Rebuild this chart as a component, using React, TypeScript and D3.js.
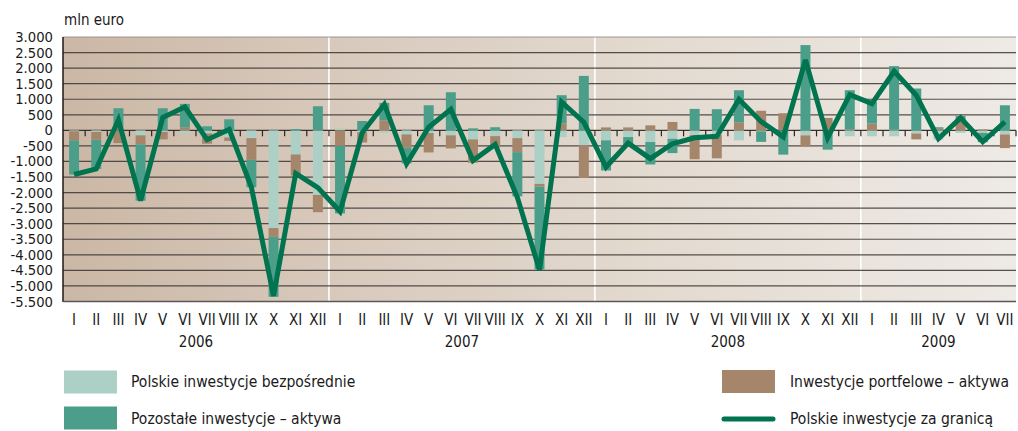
import React from "react";
import * as d3 from "d3";

const monthNames = ["I", "II", "III", "IV", "V", "VI", "VII", "VIII", "IX", "X", "XI", "XII"];
const years = ["2006", "2007", "2008", "2009"];
const monthsPerYear = [12, 12, 12, 7];

// Polskie inwestycje bezpośrednie
const directInv = [
  -30, -50, 0, -160, -50, -100, -100, -230, -250, -3140, -775, -2075,
  60, -60, -80, -130, -86, -160, -290, -185, -250, -1720, -220, -480,
  -320, -215, -376, -270, -150, -150, -320, -30, 0, -160, 0, -190,
  -190, -190, -100, -300, -80, -80, -130,
];
// Inwestycje portfelowe – aktywa
const portfolioInv = [
  -290, -250, -410, -290, -240, 100, -330, -110, -700, -280, -675, -555,
  -500, -330, 320, -430, -624, -420, -750, -370, -450, -90, 215, -1050,
  95, 95, 160, 270, -780, -750, 247, 630, 550, -356, 400, 30,
  215, 20, -190, 50, 330, 30, -440,
];
// Pozostałe inwestycje – aktywa
const otherInv = [
  -1100, -940, 710, -1810, 710, 750, 130, 355, -880, -1930, 40, 775,
  -2170, 300, 560, -500, 806, 1225, 65, 100, -1420, -2660, 915, 1750,
  -970, -265, -720, -460, 690, 680, 1043, -340, -780, 2740, -620, 1260,
  700, 2044, 1344, 50, 130, -300, 806,
];
// Polskie inwestycje za granicą
const totalInv = [
  -1420, -1240, 340, -2260, 410, 750, -300, 30, -1830, -5320, -1380, -1840,
  -2610, -80, 840, -1075, 100, 680, -970, -450, -2150, -4490, 910, 260,
  -1180, -410, -910, -430, -240, -190, 1000, 280, -210, 2260, -240, 1150,
  860, 1900, 1130, -270, 400, -370, 270,
];

const yTicks = [3000, 2500, 2000, 1500, 1000, 500, 0, -500, -1000, -1500, -2000, -2500, -3000, -3500, -4000, -4500, -5000, -5500];

const seriesKeys = ["direct", "portfolio", "other"];
const seriesLabels = ["Polskie inwestycje bezpośrednie", "Inwestycje portfelowe – aktywa", "Pozostałe inwestycje – aktywa"];
const lineLabel = "Polskie inwestycje za granicą";

const colors: Record<string, string> = {
  direct: "#acd0c5",
  portfolio: "#a5866a",
  other: "#4a9e8a",
};
const lineColor = "#00734f";

const W = 1018;
const H = 431;
const plot = { left: 63, right: 1016, top: 37, bottom: 301.5 };
const FONT = "'DejaVu Sans Condensed', 'DejaVu Sans', sans-serif";
const FONT_WIDE = "'DejaVu Sans', sans-serif";

export default function App() {
  const cats: { year: string; month: string; idx: number }[] = [];
  years.forEach((y, yi) => {
    for (let m = 0; m < monthsPerYear[yi]; m++) cats.push({ year: y, month: monthNames[m], idx: cats.length });
  });

  const rows = cats.map((c, i) => ({
    key: String(i),
    direct: directInv[i],
    portfolio: portfolioInv[i],
    other: otherInv[i],
  }));

  const x = d3
    .scaleBand<string>()
    .domain(rows.map((r) => r.key))
    .range([plot.left, plot.right])
    .paddingInner(0.55)
    .paddingOuter(0.275);
  const step = x.step();
  const y = d3.scaleLinear().domain([-5500, 3000]).range([plot.bottom, plot.top]);

  const stacked = d3
    .stack<any>()
    .keys(seriesKeys)
    .order(d3.stackOrderNone)
    .offset(d3.stackOffsetDiverging)(rows);

  const locale = d3.formatLocale({ decimal: ",", thousands: ".", grouping: [3], currency: ["", ""], minus: "-" });
  const fmt = locale.format(",");

  const line = d3
    .line<number>()
    .x((_, i) => (x(String(i)) as number) + x.bandwidth() / 2)
    .y((d) => y(d));

  const yearStarts: number[] = [];
  let acc = 0;
  monthsPerYear.forEach((n) => {
    yearStarts.push(acc);
    acc += n;
  });

  const tickXs = d3.range(1, cats.length + 1).map((k) => plot.left + k * step);

  return (
    <svg width={W} height={H} style={{ position: "absolute", left: 0, top: 0, fontFamily: FONT, fontStretch: "condensed" }}>
      <defs>
        <linearGradient id="bg" x1="0" x2="1" y1="0" y2="0">
          <stop offset="0%" stopColor="#cbb7a5" />
          <stop offset="30%" stopColor="#d8cabd" />
          <stop offset="62%" stopColor="#e3dad0" />
          <stop offset="100%" stopColor="#eeeae5" />
        </linearGradient>
      </defs>
      <rect width={W} height={H} fill="#ffffff" />
      <rect x={plot.left} y={plot.top} width={plot.right - plot.left} height={plot.bottom - plot.top} fill="url(#bg)" />

      {yearStarts.slice(1).map((s, i) => {
        const xx = plot.left + s * step;
        return <line key={"ys" + i} x1={xx} x2={xx} y1={plot.top} y2={plot.bottom} stroke="#ffffff" strokeWidth={1.6} />;
      })}

      {yTicks.map((t) => (
        <line
          key={"g" + t}
          x1={plot.left}
          x2={plot.right}
          y1={y(t)}
          y2={y(t)}
          stroke={t === 3000 ? "#8f8884" : "#3a3532"}
          strokeWidth={t === 0 ? 1.4 : 1.2}
          strokeOpacity={t === 0 ? 1 : 0.85}
        />
      ))}

      {tickXs.map((tx, i) => (
        <line key={"t" + i} x1={tx} x2={tx} y1={y(0)} y2={y(0) + 6} stroke="#2a2623" strokeWidth={1.2} />
      ))}

      {stacked.map((s) => (
        <g key={s.key} fill={colors[s.key]}>
          {s.map((d, i) => {
            const y0 = y(d[0]);
            const y1 = y(d[1]);
            const h = Math.abs(y0 - y1);
            if (h < 0.01) return null;
            return <rect key={i} x={x(String(i))} y={Math.min(y0, y1)} width={x.bandwidth()} height={h} />;
          })}
        </g>
      ))}

      <path d={line(totalInv) as string} fill="none" stroke={lineColor} strokeWidth={5} strokeLinejoin="miter" strokeMiterlimit={3} />

      <line x1={plot.left} x2={plot.left} y1={plot.top} y2={plot.bottom + 0.5} stroke="#1e1b19" strokeWidth={1.5} />
      <line x1={plot.left} x2={plot.right} y1={plot.bottom} y2={plot.bottom} stroke="#5c5754" strokeWidth={1.5} />

      {yTicks.map((t) => (
        <text key={"yl" + t} x={53} y={y(t) + 5} textAnchor="end" fontSize={13.2} fill="#1a1a1a" style={{ fontFamily: FONT_WIDE, fontStretch: "normal" }}>
          {fmt(t)}
        </text>
      ))}
      <text x={64} y={25} fontSize={15} fill="#1a1a1a">mln euro</text>

      {cats.map((c, i) => (
        <text key={"m" + i} x={(x(String(i)) as number) + x.bandwidth() / 2} y={325} textAnchor="middle" fontSize={15} fill="#1a1a1a">
          {c.month}
        </text>
      ))}
      {years.map((yr, yi) => {
        const start = plot.left + yearStarts[yi] * step;
        const end = start + monthsPerYear[yi] * step;
        return (
          <text key={"y" + yr} x={(start + end) / 2} y={347} textAnchor="middle" fontSize={15} fill="#1a1a1a">
            {yr}
          </text>
        );
      })}

      <rect x={64} y={370.5} width={53} height={23} fill={colors.direct} />
      <text x={131} y={387} fontSize={15.5} fill="#1a1a1a">{seriesLabels[0]}</text>
      <rect x={64} y={406.5} width={53} height={23} fill={colors.other} />
      <text x={131} y={423.5} fontSize={15.5} fill="#1a1a1a">{seriesLabels[2]}</text>
      <rect x={722} y={370} width={53} height={23} fill={colors.portfolio} />
      <text x={790} y={387} fontSize={15.5} fill="#1a1a1a">{seriesLabels[1]}</text>
      <line x1={724} x2={773} y1={419} y2={419} stroke={lineColor} strokeWidth={5} strokeLinecap="round" />
      <text x={790} y={423.5} fontSize={15.5} fill="#1a1a1a">{lineLabel}</text>
    </svg>
  );
}
